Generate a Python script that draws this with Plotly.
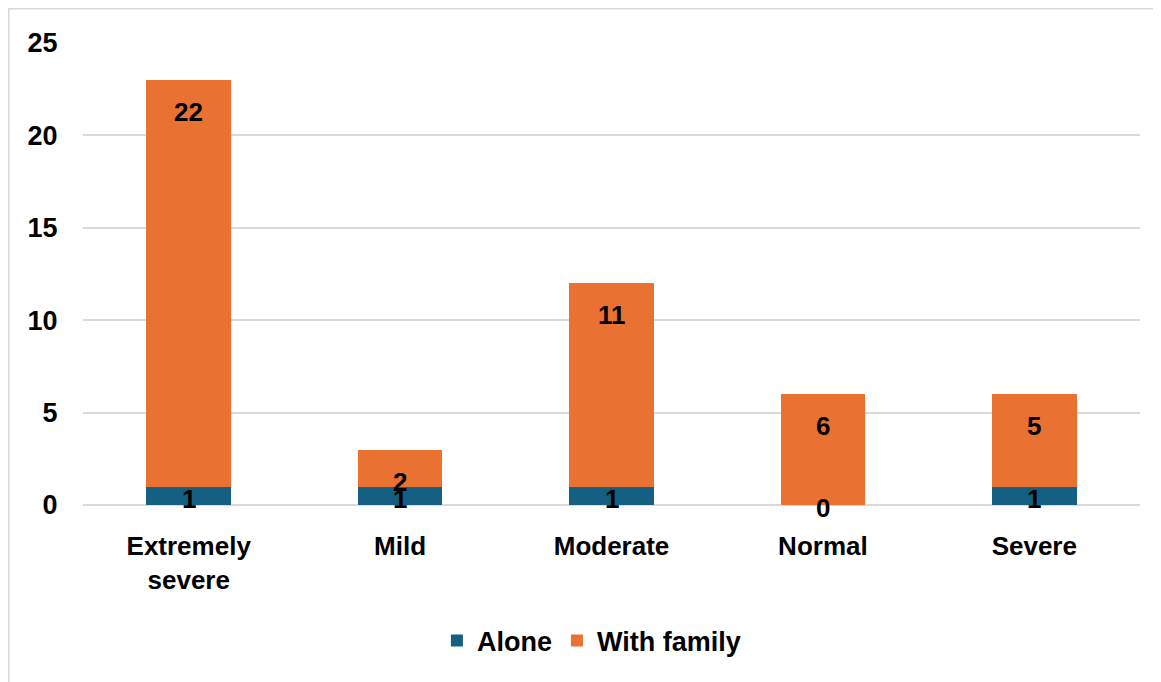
import plotly.graph_objects as go

categories = ["Extremely<br>severe", "Mild", "Moderate", "Normal", "Severe"]
alone = [1, 1, 1, 0, 1]
with_family = [22, 2, 11, 6, 5]

BLUE = "#156082"
ORANGE = "#E97132"
FONT = "Liberation Sans"

fig = go.Figure()
fig.add_trace(go.Bar(x=categories, y=alone, name="Alone", marker=dict(color=BLUE, line=dict(width=0))))
fig.add_trace(go.Bar(x=categories, y=with_family, name="With family", marker=dict(color=ORANGE, line=dict(width=0))))

annotations = []
for c, a, w in zip(categories, alone, with_family):
    annotations.append(dict(x=c, y=a / 2, text=f"<b>{a}</b>", showarrow=False,
                            font=dict(family=FONT, size=26, color="black"), yshift=-3))
    annotations.append(dict(x=c, y=a + w, text=f"<b>{w}</b>", showarrow=False,
                            font=dict(family=FONT, size=26, color="black"), yshift=-32))

L, R, T, B = 75, 29, 35, 185
PW, PH = 1161 - L - R, 682 - T - B

fig.update_layout(
    barmode="stack",
    bargap=0.6,
    width=1161, height=682,
    margin=dict(l=L, r=R, t=T, b=B),
    paper_bgcolor="white", plot_bgcolor="white",
    font=dict(family=FONT, size=24, color="black"),
    showlegend=True,
    legend=dict(orientation="h", x=0.481, xanchor="center", y=-136 / PH, yanchor="middle",
                font=dict(family=FONT, size=27, color="black", weight="bold"),
                itemwidth=30, traceorder="normal"),
    annotations=annotations,
    shapes=[dict(type="rect", xref="paper", yref="paper",
                 x0=-L / PW, x1=1 + (R + 20) / PW,
                 y0=-(B + 20) / PH, y1=1 + T / PH,
                 line=dict(color="#D9D9D9", width=3), fillcolor="rgba(0,0,0,0)", layer="below")],
)
fig.update_xaxes(showgrid=False, showline=False, zeroline=False, automargin=False,
                 tickfont=dict(family=FONT, size=26, color="black", weight="bold"),
                 ticks="outside", ticklen=0, ticklabelstandoff=18)
fig.update_yaxes(range=[0, 25], dtick=5, showgrid=True, gridcolor="#D9D9D9", gridwidth=1.5,
                 zeroline=True, zerolinecolor="#D9D9D9", zerolinewidth=1.5, showline=False,
                 automargin=False,
                 tickfont=dict(family=FONT, size=27, color="black", weight="bold"),
                 ticks="outside", ticklen=0, ticklabelstandoff=19)

fig.write_html("out.html")
